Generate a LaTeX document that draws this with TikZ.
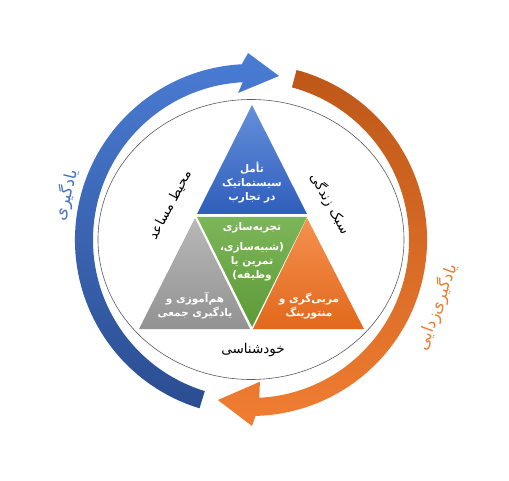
\documentclass[tikz,border=0pt]{standalone}
\usepackage{fontspec}
\newfontfamily\fa[Script=Arabic]{DejaVu Sans}
\TeXXeTstate=1
\def\zw{^^^^200c}
\definecolor{bluetop}{HTML}{6590DC}
\definecolor{bluebot}{HTML}{2F5EBB}
\definecolor{greentop}{HTML}{7DB65A}
\definecolor{greenbot}{HTML}{5C9A37}
\definecolor{graytop}{HTML}{B8B8B8}
\definecolor{graybot}{HTML}{929292}
\definecolor{orangetop}{HTML}{F4914F}
\definecolor{orangebot}{HTML}{E2681C}
\definecolor{arrblueA}{HTML}{4A7CD4}
\definecolor{arrblueB}{HTML}{2B4D91}
\definecolor{arrorA}{HTML}{BD5718}
\definecolor{arrorB}{HTML}{F07D32}
\definecolor{txtblue}{HTML}{4472C4}
\definecolor{txtorange}{HTML}{ED7D31}
\tikzset{
  tritext/.style={text=white, align=center, font=\fa\bfseries\fontsize{10.5}{14}\selectfont, inner sep=0pt},
  sidetext/.style={text=black, font=\fa\fontsize{13.5}{15}\selectfont, inner sep=0pt},
  arctext/.style={font=\fa\fontsize{16.5}{19}\selectfont, inner sep=0pt}
}
\begin{document}
\begin{tikzpicture}[x=1pt,y=1pt]
\useasboundingbox (0,0) rectangle (509,480);
% inner ellipse
\draw[black!65, line width=0.6pt] (251,240.5) ellipse [x radius=153, y radius=140];
% outer arrows
\begin{scope}[shift={(251,240)}]
\shade[top color=arrblueA, bottom color=arrblueB]
  (253:176) arc[start angle=253, end angle=93, radius=176]
  -- (90.9:187) -- (80.3:166.4) -- (95:147.6) -- (93:158)
  arc[start angle=93, end angle=253, radius=158] -- cycle;
\shade[top color=arrorA, bottom color=arrorB]
  (75:176) arc[start angle=75, end angle=-88.5, radius=176]
  -- (-89.7:186) -- (-101.7:163.4) -- (-86.4:142) -- (-87:158)
  arc[start angle=-87, end angle=75, radius=158] -- cycle;
\end{scope}
% triangles
\shade[top color=bluetop, bottom color=bluebot] (197,266) -- (307,266) -- (252,375) -- cycle;
\shade[top color=greentop, bottom color=greenbot] (197,263) -- (307,263) -- (252,153) -- cycle;
\shade[top color=graytop, bottom color=graybot] (139,151) -- (250,151) -- (195,262) -- cycle;
\shade[top color=orangetop, bottom color=orangebot] (253,151) -- (364,151) -- (307,262) -- cycle;
% triangle texts
\node[tritext] (tblue) at (252,297) {\beginR تأمل\endR\\\beginR سیستماتیک\endR\\\beginR در تجارب\endR};
\node[tritext] (tgreen) at (252,228) {\beginR تجربه\zw سازی\endR\\[6pt]\beginR (شبیه\zw سازی،\endR\\\beginR تمرین یا\endR\\\beginR وظیفه)\endR};
\node[tritext] (tgray) at (195,174) {\beginR هم\zw آموزی و\endR\\\beginR یادگیری جمعی\endR};
\node[tritext] (torange) at (309,174) {\beginR مربی\zw گری و\endR\\\beginR منتورینگ\endR};
% side texts
\node[sidetext, rotate=62] (env) at (170,275) {\beginR محیط مساعد\endR};
\node[sidetext, rotate=-61] (life) at (330,276) {\beginR سبک زندگی\endR};
\node[sidetext] (self) at (253,130) {\beginR خودشناسی\endR};
% arrow labels
\node[arctext, text=txtblue, rotate=76] (learn) at (66,285) {\beginR یادگیری\endR};
\node[arctext, text=txtorange, rotate=70] (unlearn) at (437,173) {\beginR یادگیری\zw زدایی\endR};
\end{tikzpicture}
\end{document}
